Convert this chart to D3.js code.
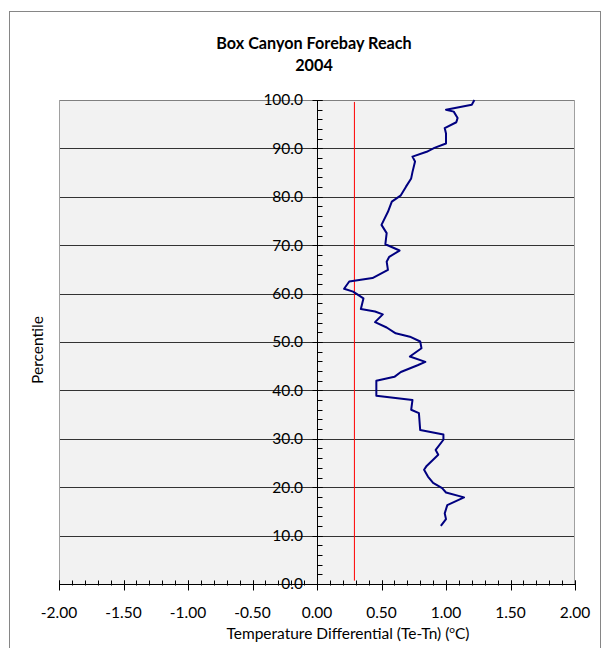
<!DOCTYPE html>
<html>
<head>
<meta charset="utf-8">
<script src="https://cdn.jsdelivr.net/npm/d3@7"></script>
<style>
  html, body { margin: 0; padding: 0; background: #fff; }
  svg text { font-family: Lato, "Open Sans", sans-serif; fill: #000; }
</style>
</head>
<body>
<svg id="chart" width="603" height="648"></svg>
<script>
// Cumulative percentile of the temperature differential (Te - Tn), Box Canyon Forebay Reach, 2004
const percentile = [
  12.0, 13.4, 14.6, 16.3, 17.9, 18.9, 19.8, 20.9, 22.2, 23.6,
  24.4, 26.7, 27.7, 29.8, 30.9, 31.8, 35.3, 36.0, 38.0, 38.9,
  40.1, 41.1, 42.0, 42.8, 43.8, 45.2, 45.9, 47.0, 48.7, 50.1,
  51.1, 51.8, 53.0, 54.1, 55.7, 56.3, 56.8, 59.0, 60.4, 61.0,
  62.5, 63.2, 64.9, 66.6, 67.6, 68.9, 70.2, 72.5, 74.2, 76.9,
  79.0, 80.3, 82.1, 83.8, 85.1, 87.3, 88.3, 89.3, 90.1, 91.0,
  93.1, 94.2, 95.4, 96.3, 97.6, 98.0, 99.0, 100.0
];
const differential = [
  0.96, 1.00, 0.99, 1.01, 1.14, 1.00, 0.97, 0.90, 0.86, 0.83,
  0.85, 0.94, 0.92, 0.98, 0.98, 0.80, 0.79, 0.73, 0.74, 0.46,
  0.46, 0.46, 0.46, 0.60, 0.65, 0.78, 0.84, 0.72, 0.81, 0.80,
  0.72, 0.61, 0.54, 0.45, 0.51, 0.45, 0.34, 0.36, 0.28, 0.21,
  0.25, 0.43, 0.55, 0.54, 0.56, 0.64, 0.53, 0.54, 0.50, 0.55,
  0.58, 0.65, 0.69, 0.73, 0.74, 0.76, 0.74, 0.85, 0.91, 1.00,
  1.00, 0.99, 1.08, 1.09, 1.06, 1.00, 1.20, 1.22
];

// Reference threshold drawn as a vertical line
const thresholdX = [0.29, 0.29];
const thresholdY = [0.7, 99.6];

const xTicks = [-2, -1.5, -1, -0.5, 0, 0.5, 1, 1.5, 2];
const yTicks = [0, 10, 20, 30, 40, 50, 60, 70, 80, 90, 100];

const titleLines = ["Box Canyon Forebay Reach", "2004"];
const xTitle = "Temperature Differential (Te-Tn) (";
const yTitle = "Percentile";

const svg = d3.select("#chart");

const plot = { left: 59, right: 575, top: 100, bottom: 584 };
const x = d3.scaleLinear().domain([-2, 2]).range([plot.left, plot.right]);
const y = d3.scaleLinear().domain([0, 100]).range([plot.bottom, plot.top]);

// Outer chart frame
svg.append("rect")
  .attr("x", 9.5).attr("y", 11.5).attr("width", 591).attr("height", 650)
  .attr("fill", "#fff").attr("stroke", "#868686").attr("stroke-width", 1);

// Plot area
svg.append("rect")
  .attr("x", plot.left).attr("y", plot.top)
  .attr("width", plot.right - plot.left).attr("height", plot.bottom - plot.top)
  .attr("fill", "#f2f2f2");

// Horizontal gridlines
svg.append("g")
  .selectAll("line")
  .data(yTicks.filter(d => d > 0))
  .join("line")
  .attr("x1", plot.left).attr("x2", plot.right)
  .attr("y1", d => Math.round(y(d)) + 0.5).attr("y2", d => Math.round(y(d)) + 0.5)
  .attr("stroke", d => d === 100 ? "#808080" : "#333")
  .attr("stroke-width", 1);

// Side borders of plot area
svg.append("line")
  .attr("x1", plot.left + 0.5).attr("x2", plot.left + 0.5)
  .attr("y1", plot.top).attr("y2", plot.bottom)
  .attr("stroke", "#a0a0a0");
svg.append("line")
  .attr("x1", plot.right - 0.5).attr("x2", plot.right - 0.5)
  .attr("y1", plot.top).attr("y2", plot.bottom)
  .attr("stroke", "#a0a0a0");

// Threshold line
svg.append("line")
  .attr("x1", x(thresholdX[0])).attr("x2", x(thresholdX[1]))
  .attr("y1", y(thresholdY[0])).attr("y2", y(thresholdY[1]))
  .attr("stroke", "#ff0000").attr("stroke-width", 1);

// Differential curve
const pts = percentile.map((p, i) => [differential[i], p]);
svg.append("path")
  .datum(pts)
  .attr("fill", "none")
  .attr("stroke", "#000080")
  .attr("stroke-width", 2)
  .attr("stroke-linejoin", "round")
  .attr("d", d3.line().x(d => x(d[0])).y(d => y(d[1])));

// X axis along percentile 0
const x0 = Math.round(y(0)) + 0.5;
const xMinor = d3.range(-20, 21).map(d => d / 10);
const gx = svg.append("g");
gx.append("line")
  .attr("x1", plot.left).attr("x2", plot.right)
  .attr("y1", x0).attr("y2", x0).attr("stroke", "#000");
gx.selectAll("line.minor")
  .data(xMinor)
  .join("line").attr("class", "minor")
  .attr("x1", d => Math.round(x(d)) + 0.5).attr("x2", d => Math.round(x(d)) + 0.5)
  .attr("y1", x0 - 4).attr("y2", x0 + 1)
  .attr("stroke", "#000");
gx.selectAll("line.major")
  .data(xTicks)
  .join("line").attr("class", "major")
  .attr("x1", d => Math.round(x(d)) + 0.5).attr("x2", d => Math.round(x(d)) + 0.5)
  .attr("y1", x0 - 4).attr("y2", x0 + 6)
  .attr("stroke", "#000");
gx.selectAll("text")
  .data(xTicks)
  .join("text")
  .attr("x", d => x(d)).attr("y", 618)
  .attr("text-anchor", "middle")
  .attr("font-size", 15.5)
  .text(d => d3.format(".2f")(d).replace("\u2212", "-"));

// Y axis along differential 0
const y0 = Math.round(x(0)) + 0.5;
const yMinor = d3.range(0, 101, 2);
const gy = svg.append("g");
gy.append("line")
  .attr("x1", y0).attr("x2", y0)
  .attr("y1", plot.top).attr("y2", plot.bottom).attr("stroke", "#000");
gy.selectAll("line.minor")
  .data(yMinor)
  .join("line").attr("class", "minor")
  .attr("x1", y0).attr("x2", y0 + 5)
  .attr("y1", d => Math.round(y(d)) + 0.5).attr("y2", d => Math.round(y(d)) + 0.5)
  .attr("stroke", "#000");
gy.selectAll("line.major")
  .data(yTicks)
  .join("line").attr("class", "major")
  .attr("x1", y0 - 5).attr("x2", y0 + 5)
  .attr("y1", d => Math.round(y(d)) + 0.5).attr("y2", d => Math.round(y(d)) + 0.5)
  .attr("stroke", "#000");
gy.selectAll("text")
  .data(yTicks)
  .join("text")
  .attr("x", 303).attr("y", d => y(d))
  .attr("dy", "0.35em")
  .attr("text-anchor", "end")
  .attr("font-size", 15.5)
  .text(d => d3.format(".1f")(d));

// Titles
svg.append("text")
  .attr("x", 314).attr("y", 49)
  .attr("text-anchor", "middle").attr("font-size", 16.2).attr("font-weight", "bold")
  .text(titleLines[0]);
svg.append("text")
  .attr("x", 314).attr("y", 71)
  .attr("text-anchor", "middle").attr("font-size", 16.2).attr("font-weight", "bold")
  .text(titleLines[1]);

const xt = svg.append("text")
  .attr("x", 348).attr("y", 639)
  .attr("text-anchor", "middle").attr("font-size", 15.5);
xt.append("tspan").text(xTitle);
xt.append("tspan").attr("font-size", 10).attr("dy", -6).text("o");
xt.append("tspan").attr("dy", 6).text("C)");

svg.append("text")
  .attr("transform", "translate(43,350) rotate(-90)")
  .attr("text-anchor", "middle").attr("font-size", 15.5)
  .text(yTitle);
</script>
</body>
</html>
